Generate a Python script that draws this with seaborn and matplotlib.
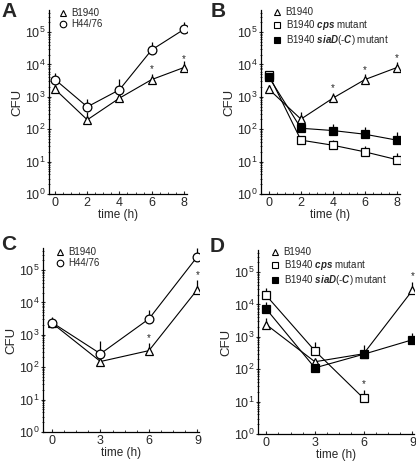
import numpy as np
import matplotlib
matplotlib.use("Agg")
import matplotlib.pyplot as plt
from matplotlib.lines import Line2D
from matplotlib.ticker import LogLocator, NullFormatter, MultipleLocator
import seaborn as sns

# --- data (CFU, upper error bar ends) ---
time_ab = [0, 2, 4, 6, 8]
time_cd = [0, 3, 6, 9]

a_b1940 = [1700, 195, 910, 3400, 8000]
a_b1940_up = [2300, 330, 1300, 5000, 13000]
a_h4476 = [3400, 490, 1650, 28000, 120000]
a_h4476_up = [5400, 850, 3500, 50000, 200000]
a_stars = [(6, 8300), (8, 17000)]

b_b1940 = [1700, 205, 910, 3400, 8000]
b_b1940_up = [2300, 330, 1300, 5000, 12000]
b_cps = [4700, 46, 32, 20, 11.5]
b_cps_up = [6300, 62, 45, 30, 19]
b_sia = [4000, 107, 91, 70, 46]
b_sia_up = [5200, 150, 142, 113, 83]
b_stars = [(4, 2150), (6, 7800), (8, 18000)]

c_b1940 = [2300, 150, 325, 25000]
c_b1940_up = [2800, 150, 560, 48000]
c_h4476 = [2400, 260, 3100, 260000]
c_h4476_up = [3600, 630, 5800, 480000]
c_stars = [(6, 880), (9, 77000)]

d_b1940 = [2400, 170, 300, 27000]
d_b1940_up = [3900, 170, 300, 51000]
d_cps = [19000, 370, 12.6]
d_cps_up = [32000, 700, 23]
d_sia = [7300, 110, 290, 810]
d_sia_up = [12000, 150, 570, 1300]
d_stars = [(6, 39), (9, 83000)]

sns.set_style("ticks")
plt.rcParams['font.family'] = ['Liberation Sans', 'DejaVu Sans']
plt.rcParams['mathtext.fontset'] = 'custom'
plt.rcParams['mathtext.rm'] = 'Liberation Sans'
plt.rcParams['mathtext.it'] = 'Liberation Sans:italic'
plt.rcParams['mathtext.bf'] = 'Liberation Sans:bold'
plt.rcParams['mathtext.bfit'] = 'Liberation Sans:bold:italic'

fig = plt.figure(figsize=(4.16, 4.62), dpi=100)
W, H = 416.0, 462.0

TRI = dict(marker='^', markerfacecolor='white')
CIR = dict(marker='o', markerfacecolor='white')
SQO = dict(marker='s', markerfacecolor='white')
SQF = dict(marker='s', markerfacecolor='black')
MS = {'^': 6.3, 'o': 6.3, 's': 5.4}

LBL_B = "B1940"
LBL_H = "H44/76"
LBL_CPS = r"B1940 $\mathbfit{cps}$ mutant"
LBL_SIA = r"B1940 $\mathbfit{siaD}$$\it{(}$-$\mathbfit{C}$$\it{)}$ mutant"


def draw(ax, t, vals, up, style):
    t = t[:len(vals)]
    sns.lineplot(x=t, y=vals, ax=ax, color='black', linewidth=0.8,
                 markersize=MS[style['marker']], markeredgecolor='black',
                 markeredgewidth=0.9, zorder=3, **style)
    lo = np.zeros(len(vals))
    hi = np.array(up) - np.array(vals)
    ax.errorbar(t, vals, yerr=[lo, hi], fmt='none', ecolor='black',
                elinewidth=0.9, capsize=0, zorder=2)


def add_axes(left, bottom, right, top):
    return fig.add_axes([left / W, 1 - bottom / H, (right - left) / W,
                         (bottom - top) / H])


def setup(ax, xt, xlim, xminor, letter, lpos):
    ax.set_yscale('log')
    ax.set_ylim(1, 10 ** 5.68)
    ax.set_xlim(*xlim)
    ax.set_xticks(xt)
    ax.xaxis.set_minor_locator(MultipleLocator(xminor))
    ax.set_yticks([10 ** k for k in range(6)])
    ax.set_yticklabels([r"$10^{%d}$" % k for k in range(6)], fontsize=9)
    ax.yaxis.set_minor_locator(LogLocator(base=10, subs=np.arange(2, 10)))
    ax.yaxis.set_minor_formatter(NullFormatter())
    ax.tick_params(axis='x', which='major', labelsize=9, length=2.5,
                   width=0.8, direction='in', pad=2.5)
    ax.tick_params(axis='x', which='minor', length=1.5, width=0.6,
                   direction='in')
    ax.tick_params(axis='y', which='major', length=2.5, width=0.8, pad=1.5,
                   direction='inout')
    ax.tick_params(axis='y', which='minor', length=1.5, width=0.6,
                   direction='inout')
    ax.set_ylabel("CFU", fontsize=9.5, labelpad=0.5)
    ax.set_xlabel("time (h)", fontsize=8.5, labelpad=0)
    sns.despine(ax=ax)
    for s in ['left', 'bottom']:
        ax.spines[s].set_linewidth(0.9)
        ax.spines[s].set_color('black')
    fig.text(lpos[0] / W, 1 - lpos[1] / H, letter, fontsize=15,
             fontweight='bold', va='top', ha='left')


def stars(ax, pts):
    for x, y in pts:
        ax.annotate("*", (x, y), xytext=(0, -3.5), textcoords='offset points',
                    ha='center', va='baseline', fontsize=7)


def legend(ax, items, x, y):
    handles = [Line2D([], [], linestyle='none', color='black',
                      markeredgecolor='black', markeredgewidth=0.8,
                      markersize=MS[st['marker']] * 0.75, **st)
               for st, _ in items]
    ax.legend(handles, [l for _, l in items], loc='upper left',
              bbox_to_anchor=(x / W, 1 - y / H), bbox_transform=fig.transFigure,
              frameon=False, fontsize=7, handlelength=0.8, handletextpad=0.5,
              labelspacing=0.1, borderaxespad=0, borderpad=0)


# Panel A
axA = add_axes(49, 194, 187, 10)
draw(axA, time_ab, a_b1940, a_b1940_up, TRI)
draw(axA, time_ab, a_h4476, a_h4476_up, CIR)
setup(axA, time_ab, (-0.38, 8.2), 0.5, "A", (1, 2))
stars(axA, a_stars)
legend(axA, [(TRI, LBL_B), (CIR, LBL_H)], 59, 8)

# Panel B
axB = add_axes(261, 194, 400, 10)
draw(axB, time_ab, b_b1940, b_b1940_up, TRI)
draw(axB, time_ab, b_cps, b_cps_up, SQO)
draw(axB, time_ab, b_sia, b_sia_up, SQF)
setup(axB, time_ab, (-0.5, 8.2), 0.5, "B", (211, 2))
stars(axB, b_stars)
legend(axB, [(TRI, LBL_B), (SQO, LBL_CPS), (SQF, LBL_SIA)], 273, 7)

# Panel C
axC = add_axes(43, 432, 199, 248)
draw(axC, time_cd, c_b1940, c_b1940_up, TRI)
draw(axC, time_cd, c_h4476, c_h4476_up, CIR)
setup(axC, time_cd, (-0.56, 9.1), 0.75, "C", (1, 235))
stars(axC, c_stars)
legend(axC, [(TRI, LBL_B), (CIR, LBL_H)], 56, 247)

# Panel D
axD = add_axes(258, 434, 414, 250)
draw(axD, time_cd, d_b1940, d_b1940_up, TRI)
draw(axD, time_cd, d_cps, d_cps_up, SQO)
draw(axD, time_cd, d_sia, d_sia_up, SQF)
setup(axD, time_cd, (-0.5, 9.1), 0.75, "D", (210, 237))
stars(axD, d_stars)
legend(axD, [(TRI, LBL_B), (SQO, LBL_CPS), (SQF, LBL_SIA)], 271, 247)

fig.savefig("out.png", dpi=100)
